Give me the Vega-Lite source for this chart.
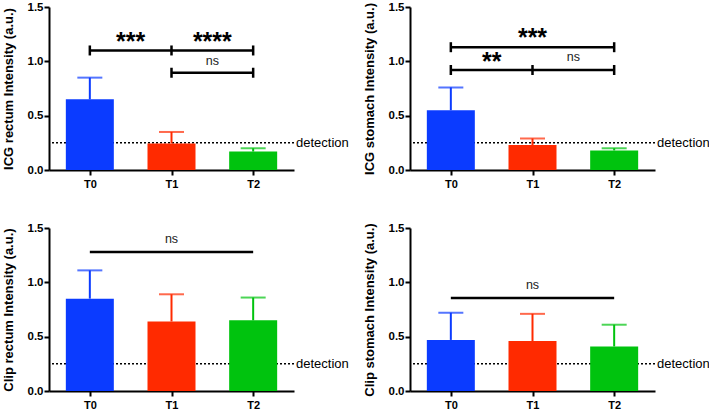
{
  "$schema": "https://vega.github.io/schema/vega-lite/v6.json",
  "background": "white",
  "padding": {"left": 2, "top": 1, "right": 0, "bottom": 0},
  "config": {
    "view": {"stroke": null},
    "font": "Liberation Sans",
    "axis": {"domainColor": "black", "domainWidth": 2, "tickColor": "black", "tickWidth": 2, "tickSize": 5, "labelColor": "black", "labelFont": "Liberation Sans", "labelFontWeight": "bold", "labelFontSize": 11.5, "titleFont": "Liberation Sans", "titleFontWeight": "bold", "titleFontSize": 13, "titleColor": "black", "grid": false}
  },
  "datasets": {
    "bars": [
      {"panel": "ICG rectum", "time": "T0", "mean": 0.65, "upper": 0.85},
      {"panel": "ICG rectum", "time": "T1", "mean": 0.245, "upper": 0.35},
      {"panel": "ICG rectum", "time": "T2", "mean": 0.17, "upper": 0.2},
      {"panel": "ICG stomach", "time": "T0", "mean": 0.55, "upper": 0.76},
      {"panel": "ICG stomach", "time": "T1", "mean": 0.23, "upper": 0.29},
      {"panel": "ICG stomach", "time": "T2", "mean": 0.18, "upper": 0.2},
      {"panel": "Clip rectum", "time": "T0", "mean": 0.85, "upper": 1.11},
      {"panel": "Clip rectum", "time": "T1", "mean": 0.64, "upper": 0.89},
      {"panel": "Clip rectum", "time": "T2", "mean": 0.65, "upper": 0.86},
      {"panel": "Clip stomach", "time": "T0", "mean": 0.47, "upper": 0.72},
      {"panel": "Clip stomach", "time": "T1", "mean": 0.46, "upper": 0.71},
      {"panel": "Clip stomach", "time": "T2", "mean": 0.41, "upper": 0.61}
    ],
    "detection": [
      {"panel": "ICG rectum", "level": 0.25, "label": "detection"},
      {"panel": "ICG stomach", "level": 0.25, "label": "detection"},
      {"panel": "Clip rectum", "level": 0.25, "label": "detection"},
      {"panel": "Clip stomach", "level": 0.25, "label": "detection"}
    ],
    "brackets": [
      {"panel": "ICG rectum", "from": "T0", "to": "T2", "level": 1.1},
      {"panel": "ICG rectum", "from": "T1", "to": "T2", "level": 0.895},
      {"panel": "ICG stomach", "from": "T0", "to": "T2", "level": 1.13},
      {"panel": "ICG stomach", "from": "T0", "to": "T2", "level": 0.92},
      {"panel": "Clip rectum", "from": "T0", "to": "T2", "level": 1.28},
      {"panel": "Clip stomach", "from": "T0", "to": "T2", "level": 0.855}
    ],
    "ticks": [
      {"panel": "ICG rectum", "at": "T0", "level": 1.1},
      {"panel": "ICG rectum", "at": "T1", "level": 1.1},
      {"panel": "ICG rectum", "at": "T2", "level": 1.1},
      {"panel": "ICG rectum", "at": "T1", "level": 0.895},
      {"panel": "ICG rectum", "at": "T2", "level": 0.895},
      {"panel": "ICG stomach", "at": "T0", "level": 1.13},
      {"panel": "ICG stomach", "at": "T2", "level": 1.13},
      {"panel": "ICG stomach", "at": "T0", "level": 0.92},
      {"panel": "ICG stomach", "at": "T1", "level": 0.92},
      {"panel": "ICG stomach", "at": "T2", "level": 0.92}
    ],
    "labels": [
      {"panel": "ICG rectum", "at": "T0–T1", "level": 1.21, "label": "***", "kind": "star"},
      {"panel": "ICG rectum", "at": "T1–T2", "level": 1.21, "label": "****", "kind": "star"},
      {"panel": "ICG rectum", "at": "T1–T2", "level": 1.0, "label": "ns", "kind": "ns"},
      {"panel": "ICG stomach", "at": "T1", "level": 1.245, "label": "***", "kind": "star"},
      {"panel": "ICG stomach", "at": "T0–T1", "level": 1.025, "label": "**", "kind": "star"},
      {"panel": "ICG stomach", "at": "T1–T2", "level": 1.04, "label": "ns", "kind": "ns"},
      {"panel": "Clip rectum", "at": "T1", "level": 1.395, "label": "ns", "kind": "ns"},
      {"panel": "Clip stomach", "at": "T1", "level": 0.975, "label": "ns", "kind": "ns"}
    ]
  },
  "columns": 2,
  "spacing": {"row": 33, "column": 14},
  "concat": [
    {
      "width": 245, "height": 163,
      "layer": [
        {"data": {"name": "bars"}, "transform": [{"filter": "datum.panel === 'ICG rectum'"}],
         "mark": {"type": "bar", "width": 48, "opacity": 0},
         "encoding": {
           "x": {"field": "time", "type": "nominal", "scale": {"type": "point", "domain": ["T0", "T0–T1", "T1", "T1–T2", "T2"], "padding": 1.36}, "axis": {"title": null, "values": ["T0", "T1", "T2"], "labelAngle": 0, "labelPadding": 3, "labelFontSize": 11}},
           "y": {"field": "mean", "type": "quantitative", "scale": {"domain": [0, 1.5], "nice": false}, "axis": {"title": "ICG rectum Intensity (a.u.)", "values": [0, 0.5, 1, 1.5], "format": ".1f", "labelPadding": 1, "titlePadding": 12}},
           "color": {"field": "time", "type": "nominal", "scale": {"domain": ["T0", "T1", "T2"], "range": ["#0b3bff", "#ff2a00", "#00c30e"]}, "legend": null}}},
        {"data": {"name": "detection"}, "transform": [{"filter": "datum.panel === 'ICG rectum'"}],
         "mark": {"type": "rule", "color": "black", "strokeDash": [2, 2], "strokeWidth": 1.5},
         "encoding": {"y": {"field": "level", "type": "quantitative"}}},
        {"data": {"name": "detection"}, "transform": [{"filter": "datum.panel === 'ICG rectum'"}],
         "mark": {"type": "text", "align": "left", "baseline": "middle", "dx": 2, "fontSize": 13, "color": "black"},
         "encoding": {"x": {"value": "width"}, "y": {"field": "level", "type": "quantitative"}, "text": {"field": "label"}}},
        {"data": {"name": "bars"}, "transform": [{"filter": "datum.panel === 'ICG rectum'"}],
         "mark": {"type": "bar", "width": 48},
         "encoding": {"x": {"field": "time", "type": "nominal"}, "y": {"field": "mean", "type": "quantitative"}, "color": {"field": "time", "type": "nominal", "legend": null}}},
        {"data": {"name": "bars"}, "transform": [{"filter": "datum.panel === 'ICG rectum'"}],
         "mark": {"type": "rule", "strokeWidth": 2},
         "encoding": {"x": {"field": "time", "type": "nominal"}, "y": {"field": "mean", "type": "quantitative"}, "y2": {"field": "upper"}, "color": {"field": "time", "type": "nominal", "legend": null}}},
        {"data": {"name": "bars"}, "transform": [{"filter": "datum.panel === 'ICG rectum'"}],
         "mark": {"type": "tick", "orient": "horizontal", "size": 25, "thickness": 2},
         "encoding": {"x": {"field": "time", "type": "nominal"}, "y": {"field": "upper", "type": "quantitative"}, "color": {"field": "time", "type": "nominal", "legend": null}}},
        {"data": {"name": "brackets"}, "transform": [{"filter": "datum.panel === 'ICG rectum'"}],
         "mark": {"type": "rule", "color": "black", "strokeWidth": 2.5},
         "encoding": {"x": {"field": "from", "type": "nominal"}, "x2": {"field": "to"}, "y": {"field": "level", "type": "quantitative"}}},
        {"data": {"name": "ticks"}, "transform": [{"filter": "datum.panel === 'ICG rectum'"}],
         "mark": {"type": "tick", "orient": "vertical", "size": 10, "thickness": 2.5, "color": "black", "opacity": 1},
         "encoding": {"x": {"field": "at", "type": "nominal"}, "y": {"field": "level", "type": "quantitative"}}},
        {"data": {"name": "labels"}, "transform": [{"filter": "datum.panel === 'ICG rectum' && datum.kind === 'star'"}],
         "mark": {"type": "text", "fontSize": 25, "fontWeight": "bold", "baseline": "alphabetic", "dy": 11, "color": "black"},
         "encoding": {"x": {"field": "at", "type": "nominal"}, "y": {"field": "level", "type": "quantitative"}, "text": {"field": "label"}}},
        {"data": {"name": "labels"}, "transform": [{"filter": "datum.panel === 'ICG rectum' && datum.kind === 'ns'"}],
         "mark": {"type": "text", "fontSize": 12.5, "baseline": "middle", "color": "#222222"},
         "encoding": {"x": {"field": "at", "type": "nominal"}, "y": {"field": "level", "type": "quantitative"}, "text": {"field": "label"}}}
      ]
    },
    {
      "width": 245, "height": 163,
      "layer": [
        {"data": {"name": "bars"}, "transform": [{"filter": "datum.panel === 'ICG stomach'"}],
         "mark": {"type": "bar", "width": 48, "opacity": 0},
         "encoding": {
           "x": {"field": "time", "type": "nominal", "scale": {"type": "point", "domain": ["T0", "T0–T1", "T1", "T1–T2", "T2"], "padding": 1.36}, "axis": {"title": null, "values": ["T0", "T1", "T2"], "labelAngle": 0, "labelPadding": 3, "labelFontSize": 11}},
           "y": {"field": "mean", "type": "quantitative", "scale": {"domain": [0, 1.5], "nice": false}, "axis": {"title": "ICG stomach Intensity (a.u.)", "values": [0, 0.5, 1, 1.5], "format": ".1f", "labelPadding": 1, "titlePadding": 12}},
           "color": {"field": "time", "type": "nominal", "scale": {"domain": ["T0", "T1", "T2"], "range": ["#0b3bff", "#ff2a00", "#00c30e"]}, "legend": null}}},
        {"data": {"name": "detection"}, "transform": [{"filter": "datum.panel === 'ICG stomach'"}],
         "mark": {"type": "rule", "color": "black", "strokeDash": [2, 2], "strokeWidth": 1.5},
         "encoding": {"y": {"field": "level", "type": "quantitative"}}},
        {"data": {"name": "detection"}, "transform": [{"filter": "datum.panel === 'ICG stomach'"}],
         "mark": {"type": "text", "align": "left", "baseline": "middle", "dx": 2, "fontSize": 13, "color": "black"},
         "encoding": {"x": {"value": "width"}, "y": {"field": "level", "type": "quantitative"}, "text": {"field": "label"}}},
        {"data": {"name": "bars"}, "transform": [{"filter": "datum.panel === 'ICG stomach'"}],
         "mark": {"type": "bar", "width": 48},
         "encoding": {"x": {"field": "time", "type": "nominal"}, "y": {"field": "mean", "type": "quantitative"}, "color": {"field": "time", "type": "nominal", "legend": null}}},
        {"data": {"name": "bars"}, "transform": [{"filter": "datum.panel === 'ICG stomach'"}],
         "mark": {"type": "rule", "strokeWidth": 2},
         "encoding": {"x": {"field": "time", "type": "nominal"}, "y": {"field": "mean", "type": "quantitative"}, "y2": {"field": "upper"}, "color": {"field": "time", "type": "nominal", "legend": null}}},
        {"data": {"name": "bars"}, "transform": [{"filter": "datum.panel === 'ICG stomach'"}],
         "mark": {"type": "tick", "orient": "horizontal", "size": 25, "thickness": 2},
         "encoding": {"x": {"field": "time", "type": "nominal"}, "y": {"field": "upper", "type": "quantitative"}, "color": {"field": "time", "type": "nominal", "legend": null}}},
        {"data": {"name": "brackets"}, "transform": [{"filter": "datum.panel === 'ICG stomach'"}],
         "mark": {"type": "rule", "color": "black", "strokeWidth": 2.5},
         "encoding": {"x": {"field": "from", "type": "nominal"}, "x2": {"field": "to"}, "y": {"field": "level", "type": "quantitative"}}},
        {"data": {"name": "ticks"}, "transform": [{"filter": "datum.panel === 'ICG stomach'"}],
         "mark": {"type": "tick", "orient": "vertical", "size": 10, "thickness": 2.5, "color": "black", "opacity": 1},
         "encoding": {"x": {"field": "at", "type": "nominal"}, "y": {"field": "level", "type": "quantitative"}}},
        {"data": {"name": "labels"}, "transform": [{"filter": "datum.panel === 'ICG stomach' && datum.kind === 'star'"}],
         "mark": {"type": "text", "fontSize": 25, "fontWeight": "bold", "baseline": "alphabetic", "dy": 11, "color": "black"},
         "encoding": {"x": {"field": "at", "type": "nominal"}, "y": {"field": "level", "type": "quantitative"}, "text": {"field": "label"}}},
        {"data": {"name": "labels"}, "transform": [{"filter": "datum.panel === 'ICG stomach' && datum.kind === 'ns'"}],
         "mark": {"type": "text", "fontSize": 12.5, "baseline": "middle", "color": "#222222"},
         "encoding": {"x": {"field": "at", "type": "nominal"}, "y": {"field": "level", "type": "quantitative"}, "text": {"field": "label"}}}
      ]
    },
    {
      "width": 245, "height": 163,
      "layer": [
        {"data": {"name": "bars"}, "transform": [{"filter": "datum.panel === 'Clip rectum'"}],
         "mark": {"type": "bar", "width": 48, "opacity": 0},
         "encoding": {
           "x": {"field": "time", "type": "nominal", "scale": {"type": "point", "domain": ["T0", "T0–T1", "T1", "T1–T2", "T2"], "padding": 1.36}, "axis": {"title": null, "values": ["T0", "T1", "T2"], "labelAngle": 0, "labelPadding": 3, "labelFontSize": 11}},
           "y": {"field": "mean", "type": "quantitative", "scale": {"domain": [0, 1.5], "nice": false}, "axis": {"title": "Clip rectum Intensity (a.u.)", "values": [0, 0.5, 1, 1.5], "format": ".1f", "labelPadding": 1, "titlePadding": 12}},
           "color": {"field": "time", "type": "nominal", "scale": {"domain": ["T0", "T1", "T2"], "range": ["#0b3bff", "#ff2a00", "#00c30e"]}, "legend": null}}},
        {"data": {"name": "detection"}, "transform": [{"filter": "datum.panel === 'Clip rectum'"}],
         "mark": {"type": "rule", "color": "black", "strokeDash": [2, 2], "strokeWidth": 1.5},
         "encoding": {"y": {"field": "level", "type": "quantitative"}}},
        {"data": {"name": "detection"}, "transform": [{"filter": "datum.panel === 'Clip rectum'"}],
         "mark": {"type": "text", "align": "left", "baseline": "middle", "dx": 2, "fontSize": 13, "color": "black"},
         "encoding": {"x": {"value": "width"}, "y": {"field": "level", "type": "quantitative"}, "text": {"field": "label"}}},
        {"data": {"name": "bars"}, "transform": [{"filter": "datum.panel === 'Clip rectum'"}],
         "mark": {"type": "bar", "width": 48},
         "encoding": {"x": {"field": "time", "type": "nominal"}, "y": {"field": "mean", "type": "quantitative"}, "color": {"field": "time", "type": "nominal", "legend": null}}},
        {"data": {"name": "bars"}, "transform": [{"filter": "datum.panel === 'Clip rectum'"}],
         "mark": {"type": "rule", "strokeWidth": 2},
         "encoding": {"x": {"field": "time", "type": "nominal"}, "y": {"field": "mean", "type": "quantitative"}, "y2": {"field": "upper"}, "color": {"field": "time", "type": "nominal", "legend": null}}},
        {"data": {"name": "bars"}, "transform": [{"filter": "datum.panel === 'Clip rectum'"}],
         "mark": {"type": "tick", "orient": "horizontal", "size": 25, "thickness": 2},
         "encoding": {"x": {"field": "time", "type": "nominal"}, "y": {"field": "upper", "type": "quantitative"}, "color": {"field": "time", "type": "nominal", "legend": null}}},
        {"data": {"name": "brackets"}, "transform": [{"filter": "datum.panel === 'Clip rectum'"}],
         "mark": {"type": "rule", "color": "black", "strokeWidth": 2.5},
         "encoding": {"x": {"field": "from", "type": "nominal"}, "x2": {"field": "to"}, "y": {"field": "level", "type": "quantitative"}}},
        {"data": {"name": "labels"}, "transform": [{"filter": "datum.panel === 'Clip rectum' && datum.kind === 'ns'"}],
         "mark": {"type": "text", "fontSize": 12.5, "baseline": "middle", "color": "#222222"},
         "encoding": {"x": {"field": "at", "type": "nominal"}, "y": {"field": "level", "type": "quantitative"}, "text": {"field": "label"}}}
      ]
    },
    {
      "width": 245, "height": 163,
      "layer": [
        {"data": {"name": "bars"}, "transform": [{"filter": "datum.panel === 'Clip stomach'"}],
         "mark": {"type": "bar", "width": 48, "opacity": 0},
         "encoding": {
           "x": {"field": "time", "type": "nominal", "scale": {"type": "point", "domain": ["T0", "T0–T1", "T1", "T1–T2", "T2"], "padding": 1.36}, "axis": {"title": null, "values": ["T0", "T1", "T2"], "labelAngle": 0, "labelPadding": 3, "labelFontSize": 11}},
           "y": {"field": "mean", "type": "quantitative", "scale": {"domain": [0, 1.5], "nice": false}, "axis": {"title": "Clip stomach Intensity (a.u.)", "values": [0, 0.5, 1, 1.5], "format": ".1f", "labelPadding": 1, "titlePadding": 12}},
           "color": {"field": "time", "type": "nominal", "scale": {"domain": ["T0", "T1", "T2"], "range": ["#0b3bff", "#ff2a00", "#00c30e"]}, "legend": null}}},
        {"data": {"name": "detection"}, "transform": [{"filter": "datum.panel === 'Clip stomach'"}],
         "mark": {"type": "rule", "color": "black", "strokeDash": [2, 2], "strokeWidth": 1.5},
         "encoding": {"y": {"field": "level", "type": "quantitative"}}},
        {"data": {"name": "detection"}, "transform": [{"filter": "datum.panel === 'Clip stomach'"}],
         "mark": {"type": "text", "align": "left", "baseline": "middle", "dx": 2, "fontSize": 13, "color": "black"},
         "encoding": {"x": {"value": "width"}, "y": {"field": "level", "type": "quantitative"}, "text": {"field": "label"}}},
        {"data": {"name": "bars"}, "transform": [{"filter": "datum.panel === 'Clip stomach'"}],
         "mark": {"type": "bar", "width": 48},
         "encoding": {"x": {"field": "time", "type": "nominal"}, "y": {"field": "mean", "type": "quantitative"}, "color": {"field": "time", "type": "nominal", "legend": null}}},
        {"data": {"name": "bars"}, "transform": [{"filter": "datum.panel === 'Clip stomach'"}],
         "mark": {"type": "rule", "strokeWidth": 2},
         "encoding": {"x": {"field": "time", "type": "nominal"}, "y": {"field": "mean", "type": "quantitative"}, "y2": {"field": "upper"}, "color": {"field": "time", "type": "nominal", "legend": null}}},
        {"data": {"name": "bars"}, "transform": [{"filter": "datum.panel === 'Clip stomach'"}],
         "mark": {"type": "tick", "orient": "horizontal", "size": 25, "thickness": 2},
         "encoding": {"x": {"field": "time", "type": "nominal"}, "y": {"field": "upper", "type": "quantitative"}, "color": {"field": "time", "type": "nominal", "legend": null}}},
        {"data": {"name": "brackets"}, "transform": [{"filter": "datum.panel === 'Clip stomach'"}],
         "mark": {"type": "rule", "color": "black", "strokeWidth": 2.5},
         "encoding": {"x": {"field": "from", "type": "nominal"}, "x2": {"field": "to"}, "y": {"field": "level", "type": "quantitative"}}},
        {"data": {"name": "labels"}, "transform": [{"filter": "datum.panel === 'Clip stomach' && datum.kind === 'ns'"}],
         "mark": {"type": "text", "fontSize": 12.5, "baseline": "middle", "color": "#222222"},
         "encoding": {"x": {"field": "at", "type": "nominal"}, "y": {"field": "level", "type": "quantitative"}, "text": {"field": "label"}}}
      ]
    }
  ]
}
